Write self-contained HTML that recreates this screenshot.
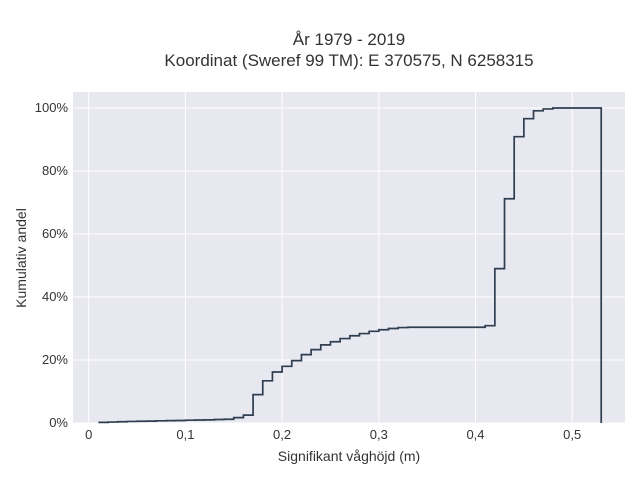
<!DOCTYPE html>
<html><head><meta charset="utf-8">
<style>
body{margin:0;background:#fff;font-family:"Liberation Sans",sans-serif;}
svg text{font-family:"Liberation Sans",sans-serif;fill:#333;}
</style></head>
<body>
<svg id="chart" width="640" height="480">
<rect x="0" y="0" width="640" height="480" fill="#fff"/>
<text x="349" y="45" font-size="17" text-anchor="middle">År 1979 - 2019</text>
<text x="349" y="66" font-size="17" text-anchor="middle">Koordinat (Sweref 99 TM): E 370575, N 6258315</text>
<rect x="73" y="92" width="552" height="331" fill="#e8e8f0"/>
<g id="grid"></g>
<g id="xticks"></g>
<g id="yticks"></g>
<path id="line" fill="none" stroke="#2f3e50" stroke-width="1.7"/>
<text x="349" y="461" font-size="14" text-anchor="middle">Signifikant våghöjd (m)</text>
<text x="26" y="258" font-size="14" text-anchor="middle" transform="rotate(-90 26 258)">Kumulativ andel</text>
</svg>
<script>
const xValues=[0.01,0.02,0.03,0.04,0.05,0.06,0.07,0.08,0.09,0.10,0.11,0.12,0.13,0.14,0.15,0.16,0.17,0.18,0.19,0.20,0.21,0.22,0.23,0.24,0.25,0.26,0.27,0.28,0.29,0.30,0.31,0.32,0.33,0.34,0.35,0.36,0.37,0.38,0.39,0.40,0.41,0.42,0.43,0.44,0.45,0.46,0.47,0.48,0.49,0.50,0.51,0.52,0.53];
const yValues=[0.2,0.3,0.4,0.5,0.55,0.6,0.7,0.75,0.8,0.9,0.95,1.0,1.1,1.2,1.7,2.5,9.0,13.4,16.2,18.0,19.8,21.7,23.3,24.8,25.8,26.8,27.7,28.4,29.1,29.6,30.0,30.3,30.4,30.4,30.4,30.4,30.4,30.4,30.4,30.4,30.9,49.0,71.2,90.9,96.6,99.1,99.7,100,100,100,100,100,0];
const xTicks=[0,0.1,0.2,0.3,0.4,0.5];
const xTickLabels=["0","0,1","0,2","0,3","0,4","0,5"];
const yTicks=[0,20,40,60,80,100];
const yTickLabels=["0%","20%","40%","60%","80%","100%"];
const X=v=>88.7+v*967;
const Y=v=>423-v*3.15;
const ns="http://www.w3.org/2000/svg";
const grid=document.getElementById('grid');
xTicks.forEach((t,i)=>{
 const l=document.createElementNS(ns,'line');
 l.setAttribute('x1',X(t));l.setAttribute('x2',X(t));l.setAttribute('y1',92);l.setAttribute('y2',423);
 l.setAttribute('stroke','#fff');l.setAttribute('stroke-width','1');
 
 
 grid.appendChild(l);
 const tx=document.createElementNS(ns,'text');
 tx.setAttribute('x',X(t));tx.setAttribute('y',439);tx.setAttribute('font-size','13');tx.setAttribute('text-anchor','middle');
 tx.textContent=xTickLabels[i];
 
 
 document.getElementById('xticks').appendChild(tx);
});
yTicks.forEach((t,i)=>{
 const l=document.createElementNS(ns,'line');
 l.setAttribute('x1',73);l.setAttribute('x2',625);l.setAttribute('y1',Y(t));l.setAttribute('y2',Y(t));
 l.setAttribute('stroke','#fff');l.setAttribute('stroke-width','1');
 
 
 grid.appendChild(l);
 const tx=document.createElementNS(ns,'text');
 tx.setAttribute('x',68);tx.setAttribute('y',Y(t)+4);tx.setAttribute('font-size','13');tx.setAttribute('text-anchor','end');
 tx.textContent=yTickLabels[i];
 
 
 document.getElementById('yticks').appendChild(tx);
});
let d='';
xValues.forEach((x,i)=>{
 if(i===0){d+='M'+X(x)+','+Y(yValues[0]);}
 else{d+=' H'+X(x)+' V'+Y(yValues[i]);}
});
document.getElementById('line').setAttribute('d',d);
</script>
</body></html>
